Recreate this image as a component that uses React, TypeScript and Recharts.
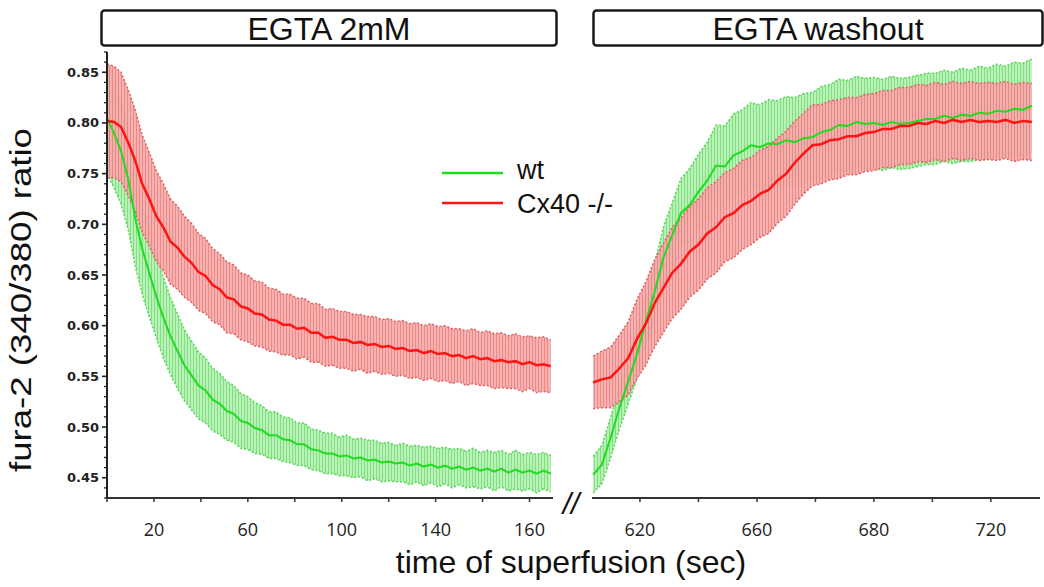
import React from 'react'
import { ComposedChart, Area, Line, XAxis, YAxis } from 'recharts'

// EGTA 2mM phase (sec)
const leftTime = [
  0, 3, 6, 9, 12, 15, 18, 21, 24, 27, 30, 33, 36, 39, 42, 45,
  48, 51, 54, 57, 60, 63, 66, 69, 72, 75, 78, 81, 84, 87, 90, 93,
  96, 99, 102, 105, 108, 111, 114, 117, 120, 123, 126, 129, 132, 135, 138, 141,
  144, 147, 150, 153, 156, 159, 162, 165, 168, 171, 174, 177, 180, 183, 186, 189,
]
const cxMeanLeft = [
  0.802, 0.801, 0.796, 0.781, 0.763, 0.740, 0.725, 0.708,
  0.697, 0.683, 0.677, 0.668, 0.662, 0.653, 0.649, 0.640,
  0.636, 0.628, 0.626, 0.619, 0.617, 0.612, 0.611, 0.606,
  0.605, 0.601, 0.601, 0.597, 0.598, 0.593, 0.593, 0.588,
  0.589, 0.586, 0.586, 0.583, 0.584, 0.581, 0.582, 0.579,
  0.580, 0.577, 0.578, 0.575, 0.576, 0.573, 0.575, 0.572,
  0.573, 0.570, 0.571, 0.568, 0.570, 0.567, 0.568, 0.565,
  0.566, 0.564, 0.565, 0.562, 0.564, 0.561, 0.562, 0.560,
]
const cxErrLeft = [
  0.056, 0.055, 0.054, 0.052, 0.050, 0.048, 0.046, 0.045,
  0.043, 0.042, 0.041, 0.040, 0.039, 0.038, 0.037, 0.036,
  0.035, 0.035, 0.034, 0.033, 0.033, 0.032, 0.032, 0.031,
  0.031, 0.030, 0.030, 0.030, 0.029, 0.029, 0.029, 0.028,
  0.028, 0.028, 0.028, 0.028, 0.027, 0.028, 0.027, 0.027,
  0.027, 0.027, 0.027, 0.027, 0.027, 0.027, 0.027, 0.027,
  0.027, 0.027, 0.026, 0.027, 0.027, 0.026, 0.027, 0.027,
  0.027, 0.026, 0.027, 0.027, 0.026, 0.027, 0.027, 0.026,
]
const wtMeanLeft = [
  0.805, 0.790, 0.772, 0.745, 0.706, 0.676, 0.652, 0.629,
  0.608, 0.590, 0.575, 0.561, 0.551, 0.541, 0.536, 0.527,
  0.523, 0.516, 0.513, 0.506, 0.504, 0.499, 0.497, 0.492,
  0.492, 0.488, 0.487, 0.483, 0.483, 0.478, 0.477, 0.474,
  0.474, 0.471, 0.472, 0.469, 0.470, 0.467, 0.468, 0.465,
  0.466, 0.464, 0.465, 0.462, 0.464, 0.461, 0.463, 0.460,
  0.462, 0.459, 0.461, 0.458, 0.460, 0.457, 0.459, 0.456,
  0.459, 0.455, 0.458, 0.455, 0.457, 0.454, 0.457, 0.454,
]
const wtErrLeft = [
  0.055, 0.054, 0.052, 0.050, 0.047, 0.045, 0.043, 0.041,
  0.040, 0.038, 0.037, 0.035, 0.034, 0.033, 0.032, 0.031,
  0.030, 0.029, 0.028, 0.027, 0.026, 0.025, 0.024, 0.023,
  0.023, 0.022, 0.022, 0.021, 0.021, 0.020, 0.020, 0.020,
  0.020, 0.019, 0.020, 0.019, 0.019, 0.020, 0.019, 0.019,
  0.019, 0.018, 0.019, 0.019, 0.018, 0.019, 0.018, 0.019,
  0.018, 0.019, 0.018, 0.018, 0.019, 0.018, 0.018, 0.019,
  0.018, 0.018, 0.019, 0.018, 0.018, 0.019, 0.018, 0.018,
]

// washout phase
const rightTime = [
  612, 613.5, 615, 616.5, 618, 619.5, 621, 622.5, 624, 625.5,
  627, 628.5, 630, 631.5, 633, 634.5, 636, 637.5, 639, 640.5,
  642, 643.5, 645, 646.5, 648, 649.5, 651, 652.5, 654, 655.5,
  657, 658.5, 660, 661.5, 663, 664.5, 666, 667.5, 669, 670.5,
  672, 673.5, 675, 676.5, 678, 679.5, 681, 682.5, 684, 685.5,
  687,
]
const cxMeanRight = [
  0.544, 0.547, 0.549, 0.558, 0.568, 0.587, 0.602, 0.622, 0.637, 0.652,
  0.661, 0.673, 0.680, 0.691, 0.697, 0.707, 0.711, 0.719, 0.723, 0.730,
  0.734, 0.743, 0.750, 0.761, 0.770, 0.778, 0.779, 0.783, 0.784, 0.787,
  0.787, 0.790, 0.791, 0.794, 0.794, 0.797, 0.797, 0.800, 0.799, 0.802,
  0.800, 0.803, 0.801, 0.803, 0.801, 0.802, 0.801, 0.803, 0.800, 0.802,
  0.801,
]
const cxErrRight = [
  0.026, 0.028, 0.030, 0.033, 0.036, 0.039, 0.041, 0.043, 0.044, 0.045,
  0.045, 0.045, 0.045, 0.045, 0.045, 0.044, 0.044, 0.044, 0.043, 0.043,
  0.043, 0.042, 0.042, 0.041, 0.040, 0.040, 0.039, 0.039, 0.039, 0.038,
  0.038, 0.038, 0.038, 0.038, 0.038, 0.038, 0.038, 0.038, 0.038, 0.038,
  0.038, 0.038, 0.038, 0.038, 0.038, 0.038, 0.038, 0.038, 0.038, 0.038,
  0.038,
]
const wtMeanRight = [
  0.453, 0.463, 0.490, 0.519, 0.545, 0.572, 0.604, 0.633, 0.667, 0.689,
  0.711, 0.719, 0.732, 0.743, 0.758, 0.757, 0.768, 0.772, 0.778, 0.776,
  0.780, 0.779, 0.783, 0.781, 0.785, 0.786, 0.791, 0.793, 0.798, 0.797,
  0.801, 0.799, 0.800, 0.798, 0.801, 0.799, 0.800, 0.802, 0.804, 0.804,
  0.807, 0.805, 0.808, 0.807, 0.810, 0.809, 0.812, 0.811, 0.814, 0.813,
  0.817,
]
const wtErrRight = [
  0.018, 0.019, 0.020, 0.021, 0.022, 0.024, 0.025, 0.028, 0.030, 0.032,
  0.034, 0.036, 0.037, 0.038, 0.040, 0.040, 0.041, 0.041, 0.042, 0.042,
  0.043, 0.043, 0.043, 0.044, 0.044, 0.044, 0.045, 0.045, 0.045, 0.045,
  0.045, 0.045, 0.045, 0.045, 0.045, 0.045, 0.045, 0.045, 0.045, 0.045,
  0.045, 0.045, 0.046, 0.045, 0.046, 0.045, 0.046, 0.045, 0.046, 0.046,
  0.046,
]

// axis ticks as printed in the figure
const leftTicks = [0, 20, 40, 60, 80, 100, 120, 140, 160, 180]
const leftTickLabels = ['', '20', '', '60', '', '100', '', '140', '', '160']
const rightTicks = [620, 630, 640, 650, 660, 670, 680]
const rightTickLabels = ['620', '', '660', '', '680', '', '720']
const yTicks = [
  0.43, 0.44, 0.45, 0.46, 0.47, 0.48, 0.49, 0.50, 0.51, 0.52, 0.53, 0.54, 0.55,
  0.56, 0.57, 0.58, 0.59, 0.60, 0.61, 0.62, 0.63, 0.64, 0.65, 0.66, 0.67, 0.68,
  0.69, 0.70, 0.71, 0.72, 0.73, 0.74, 0.75, 0.76, 0.77, 0.78, 0.79, 0.80, 0.81,
  0.82, 0.83, 0.84, 0.85, 0.86, 0.87,
]
const yDomain = [0.43, 0.87]

const RED = '#ff1414'
const GREEN = '#1edc1e'
const FONT = '"Liberation Sans", Arial, sans-serif'

function buildRows(time: number[], cx: number[], cxErr: number[], wt: number[], wtErr: number[]) {
  return time.map((t, i) => ({
    t,
    cx: cx[i],
    cxBand: [cx[i] - cxErr[i], cx[i] + cxErr[i]],
    wt: wt[i],
    wtBand: [wt[i] - wtErr[i], wt[i] + wtErr[i]],
  }))
}

const leftRows = buildRows(leftTime, cxMeanLeft, cxErrLeft, wtMeanLeft, wtErrLeft)
const rightRows = buildRows(rightTime, cxMeanRight, cxErrRight, wtMeanRight, wtErrRight)

function YTick(props: any) {
  const { x, y, payload } = props
  const v = payload.value as number
  const major = Math.round(v * 100) % 5 === 0
  return (
    <g>
      <line x1={x - (major ? 5 : 3)} x2={x} y1={y} y2={y} stroke="#222" strokeWidth={major ? 1.6 : 1.3} />
      {major && (
        <text x={x - 8} y={y} dy={4.5} textAnchor="end" fontSize={13} fontWeight="bold"
          fontFamily='"DejaVu Sans", sans-serif' fill="#222">
          {v.toFixed(2)}
        </text>
      )}
    </g>
  )
}

const makeXTick = (ticks: number[], labels: string[]) => (props: any) => {
  const { x, y, payload } = props
  const label = labels[ticks.indexOf(payload.value)] ?? ''
  return (
    <g>
      <line x1={x} x2={x} y1={y} y2={y + 4} stroke="#333" strokeWidth={1.5} />
      {label && (
        <text x={x} y={y + 38} textAnchor="middle" fontSize={18}
          fontFamily='"Open Sans", sans-serif' fill="#222">
          {label}
        </text>
      )}
    </g>
  )
}

function Hatches({ id }: { id: string }) {
  return (
    <defs>
      <pattern id={`cx-${id}`} width={3} height={4} patternUnits="userSpaceOnUse">
        <rect width={3} height={4} fill="#f5acac" />
        <rect x={1} width={1} height={4} fill="#ec8282" />
      </pattern>
      <pattern id={`wt-${id}`} width={3} height={4} patternUnits="userSpaceOnUse">
        <rect width={3} height={4} fill="#b9f1b9" />
        <rect x={1} width={1} height={4} fill="#80e080" />
      </pattern>
    </defs>
  )
}

function Series({ id }: { id: string }) {
  return [
    <Area key="wtb" type="linear" dataKey="wtBand" fill={`url(#wt-${id})`} fillOpacity={1}
      stroke="#5cd65c" strokeWidth={1.5} strokeDasharray="2 2" isAnimationActive={false} />,
    <Area key="cxb" type="linear" dataKey="cxBand" fill={`url(#cx-${id})`} fillOpacity={0.94}
      stroke="#de6262" strokeWidth={1.5} strokeDasharray="2 2" isAnimationActive={false} />,
    <Line key="wt" type="linear" dataKey="wt" stroke={GREEN} strokeWidth={2} dot={false} isAnimationActive={false} />,
    <Line key="cx" type="linear" dataKey="cx" stroke={RED} strokeWidth={2.5} dot={false} isAnimationActive={false} />,
  ]
}

export default function App() {
  return (
    <div style={{ position: 'relative', width: 1044, height: 587, background: '#fff', overflow: 'hidden' }}>
      <style>{'body{margin:0}'}</style>

      <div style={{ position: 'absolute', left: 0, top: 0 }}>
        <ComposedChart width={560} height={587} data={leftRows}
          margin={{ top: 52, right: 7, bottom: 49, left: 47 }}>
          <Hatches id="l" />
          <XAxis dataKey="t" type="number" domain={[0, 190]} ticks={leftTicks} interval={0}
            axisLine={{ stroke: '#333', strokeWidth: 2 }} tickLine={false} tickSize={0} tickMargin={0}
            height={40} tick={makeXTick(leftTicks, leftTickLabels)} />
          <YAxis type="number" domain={yDomain} ticks={yTicks} interval={0} allowDataOverflow
            axisLine={{ stroke: '#222', strokeWidth: 2 }} tickLine={false} tickSize={0} tickMargin={0}
            width={60} tick={<YTick />} />
          {Series({ id: 'l' })}
        </ComposedChart>
      </div>

      <div style={{ position: 'absolute', left: 560, top: 0 }}>
        <ComposedChart width={484} height={587} data={rightRows}
          margin={{ top: 52, right: 4, bottom: 49, left: 32 }}>
          <Hatches id="r" />
          <XAxis dataKey="t" type="number" domain={[611.8, 688.4]} ticks={rightTicks} interval={0}
            allowDataOverflow axisLine={{ stroke: '#333', strokeWidth: 2 }} tickLine={false}
            tickSize={0} tickMargin={0} height={40} tick={makeXTick(rightTicks, rightTickLabels)} />
          <YAxis hide type="number" domain={yDomain} allowDataOverflow />
          {Series({ id: 'r' })}
        </ComposedChart>
      </div>

      <svg width={1044} height={587} style={{ position: 'absolute', left: 0, top: 0, pointerEvents: 'none' }}>
        {/* phase headers */}
        <rect x={101.5} y={10.5} width={455} height={35} rx={3} fill="#fff" stroke="#1a1a1a" strokeWidth={2.5} />
        <text x={329} y={39.5} textAnchor="middle" fontSize={32} fontFamily={FONT} fill="#111">EGTA 2mM</text>
        <rect x={593.5} y={10.5} width={449} height={35} rx={3} fill="#fff" stroke="#1a1a1a" strokeWidth={2.5} />
        <text x={818} y={39.5} textAnchor="middle" fontSize={32} fontFamily={FONT} fill="#111">EGTA washout</text>

        {/* legend */}
        <line x1={442} x2={503} y1={173} y2={173} stroke={GREEN} strokeWidth={2.5} />
        <text x={517} y={179} fontSize={27} fontFamily={FONT} fill="#111">wt</text>
        <line x1={442} x2={503} y1={203} y2={203} stroke={RED} strokeWidth={2.5} />
        <text x={517} y={213} fontSize={27} fontFamily={FONT} fill="#111">Cx40 -/-</text>

        {/* axis break */}
        <text x={571} y={514} textAnchor="middle" fontSize={30} fontStyle="italic" fontFamily={FONT} fill="#111">//</text>

        {/* axis titles */}
        <text transform="translate(31,300) rotate(-90)" textAnchor="middle" fontSize={29} fontFamily={FONT}
          fill="#111" textLength={344} lengthAdjust="spacingAndGlyphs">fura-2 (340/380) ratio</text>
        <text x={571} y={573} textAnchor="middle" fontSize={32} fontFamily={FONT} fill="#111">time of superfusion (sec)</text>
      </svg>
    </div>
  )
}
